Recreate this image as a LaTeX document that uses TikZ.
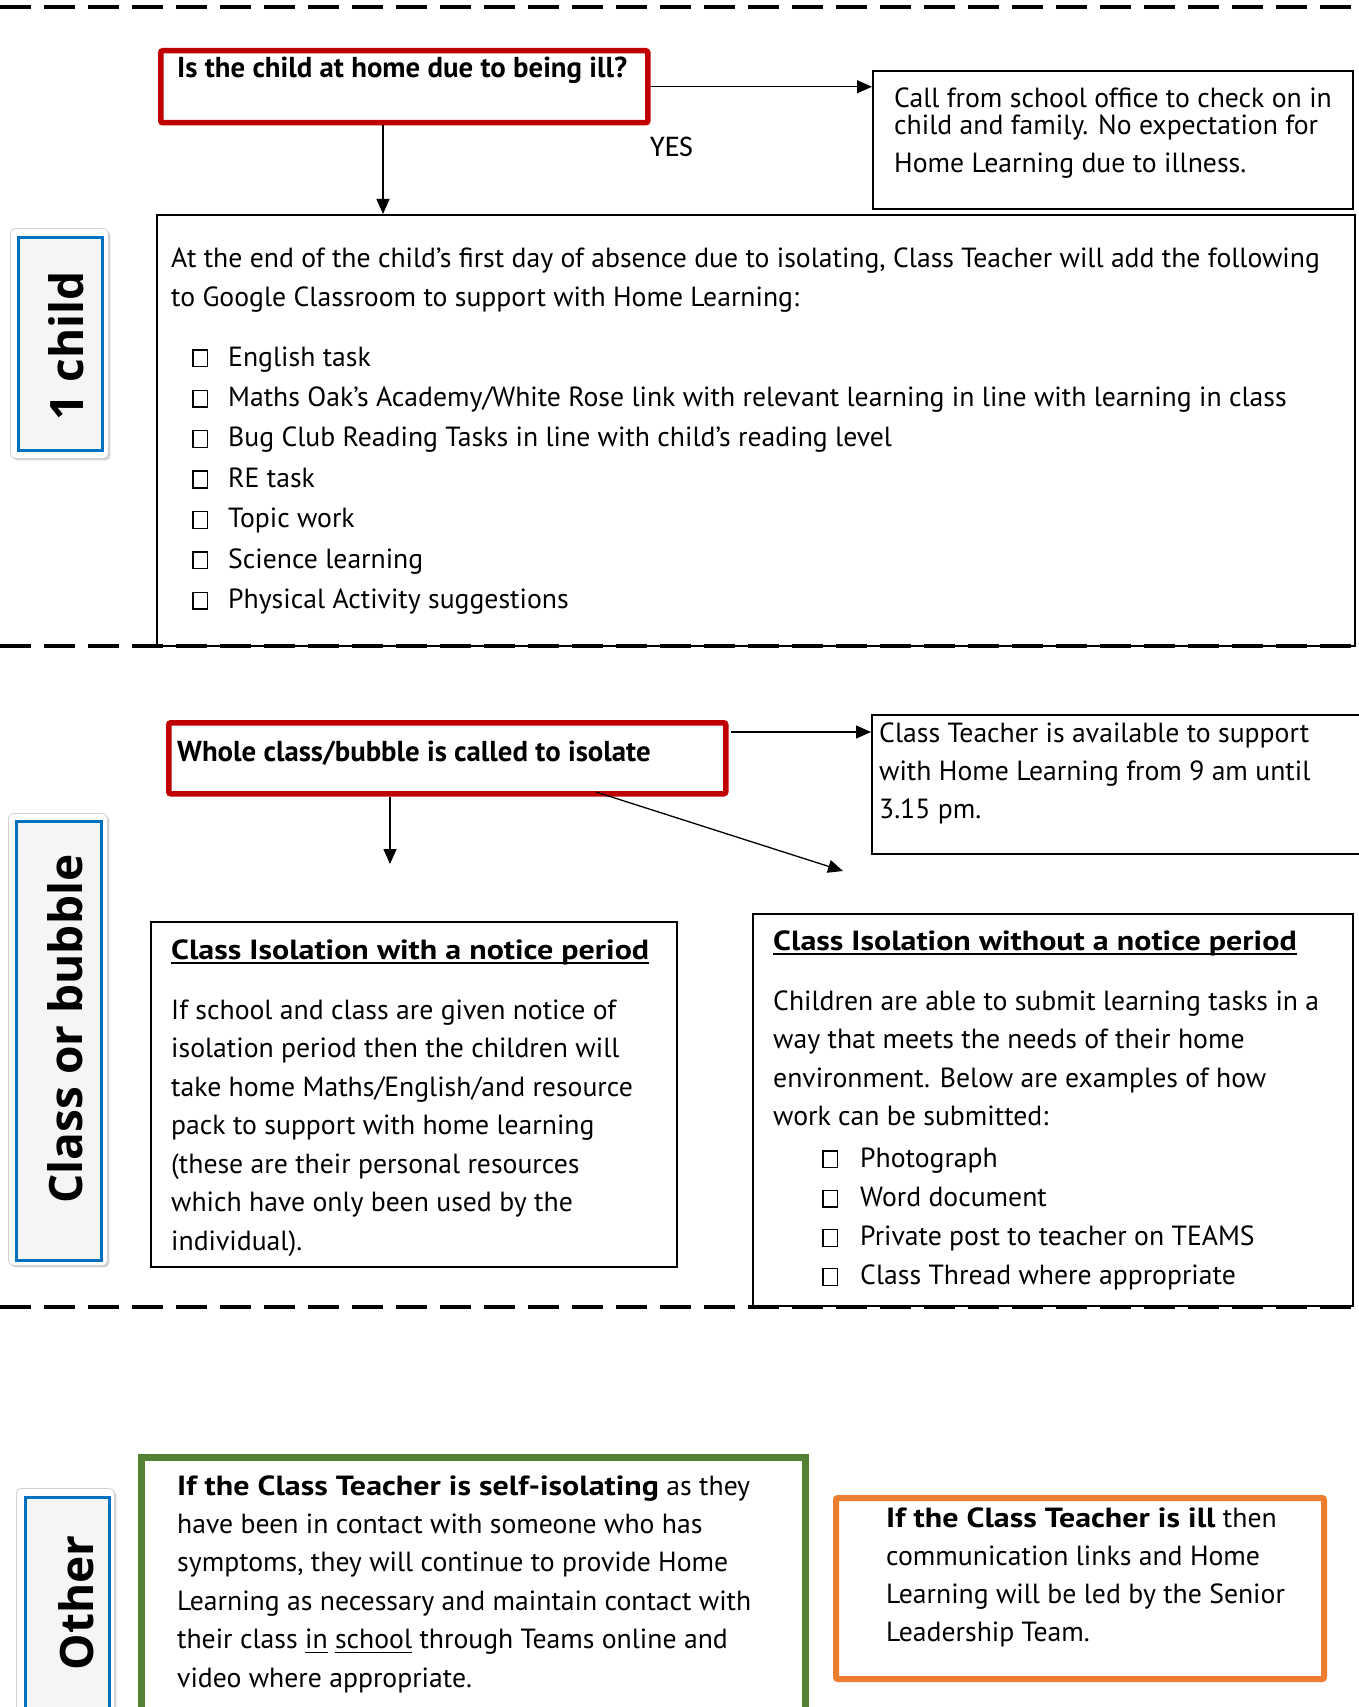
\documentclass[tikz,border=0pt]{standalone}
\usepackage{fontspec}
\setmainfont{PT Sans}
\newfontfamily\bwide{PT Sans}[FakeStretch=1.155]
\newfontfamily\labelfont{Open Sans}
\newfontfamily\yesfont{Carlito}
\usetikzlibrary{arrows.meta,shadows,calc}

\definecolor{redb}{RGB}{192,0,0}
\definecolor{greenb}{RGB}{84,130,53}
\definecolor{orangeb}{RGB}{237,125,49}
\definecolor{blueb}{RGB}{0,112,192}

\newsavebox\ulbox
\newcommand\myul[2][1.8pt]{\sbox\ulbox{#2}\rlap{\rule[-4.5pt]{\wd\ulbox}{#1}}\usebox\ulbox}
\newcommand\cbox{{\fboxsep=0pt\fboxrule=1.3pt\fbox{\rule{0pt}{15.5pt}\hspace{13.5pt}}}}
\newcommand\wb[1]{{\bwide\bfseries #1}}

\tikzset{
  x=1pt, y=-1pt,
  sep/.style={line width=4pt, dash pattern=on 31pt off 13pt},
  plainbox/.style={draw=black, line width=1.8pt, anchor=north west, inner sep=0pt},
  redbox/.style={draw=redb, line width=5.5pt, rounded corners=2pt, anchor=north west, inner sep=0pt},
  thinarr/.style={line width=1.3pt, -{Triangle[length=15pt,width=13pt]}},
  txt/.style={anchor=base west, inner sep=0pt, font=\fontsize{27.7}{33}\selectfont},
  hd/.style={anchor=base west, inner sep=0pt, font=\fontsize{28.8}{34}\selectfont\bfseries},
  uhd/.style={anchor=base west, inner sep=0pt, font=\fontsize{27.7}{33}\selectfont\bwide\bfseries},
  lblout/.style={draw=gray!35, line width=0.8pt, fill=white, rounded corners=5pt, anchor=north west,
     drop shadow={shadow xshift=2pt, shadow yshift=-2pt, opacity=0.35}},
  lblin/.style={draw=blueb, line width=3pt, fill=gray!8, anchor=north west},
  lbltxt/.style={rotate=90, anchor=base, inner sep=0pt, font=\labelfont\bfseries\fontsize{46}{50}\selectfont},
}

\begin{document}
\begin{tikzpicture}
\useasboundingbox (0,0) rectangle (1359,1707);
\fill[white] (0,0) rectangle (1359,1707);

% ---------- separators ----------
\draw[sep] (0,7) -- (1359,7);
\draw[sep] (0,646) -- (1359,646);
\draw[sep] (0,1307) -- (1359,1307);

% ================= Section 1 : 1 child =================
\node[lblout, minimum width=98pt, minimum height=230pt] (l1o) at (10,228) {};
\node[lblin, minimum width=84pt, minimum height=213pt] (l1i) at (17,236) {};
\node[lbltxt] (l1t) at (83,346) {1 child};

\node[redbox, minimum width=487pt, minimum height=72pt] (red1) at (158,48) {};
\node[hd] (red1t) at (177,78) {Is the child at home due to being ill?};

\node[plainbox, minimum width=480pt, minimum height=138pt] (call) at (872,70) {};
\node[txt] (call1) at (894,108) {Call from school office to check on in};
\node[txt] (call2) at (894,135) {child and family. No expectation for};
\node[txt] (call3) at (894,173) {Home Learning due to illness.};

\node[anchor=base west, inner sep=0pt, font=\yesfont\fontsize{30}{36}\selectfont] (yes) at (650,157) {YES};

\node[plainbox, minimum width=1198pt, minimum height=431pt] (big) at (156,214) {};
\node[txt] (big1) at (171,267) {At the end of the child’s first day of absence due to isolating, Class Teacher will add the following};
\node[txt] (big2) at (171,306) {to Google Classroom to support with Home Learning:};
\foreach \t [count=\i from 0] in {{English task},
  {Maths Oak’s Academy/White Rose link with relevant learning in line with learning in class},
  {Bug Club Reading Tasks in line with child’s reading level},
  {RE task},{Topic work},{Science learning},{Physical Activity suggestions}}
  \node[txt] (chk\i) at (192,366+40.4*\i) {\makebox[36pt][l]{\cbox}\t};

\coordinate (a1x) at (383,0);
\draw[thinarr] (red1.east) -- (red1.east -| call.west);
\draw[thinarr] (red1.south -| a1x) -- (big.north -| a1x);

% ================= Section 2 : Class or bubble =================
\node[lblout, minimum width=99pt, minimum height=452pt] (l2o) at (8,813) {};
\node[lblin, minimum width=85pt, minimum height=439pt] (l2i) at (15,820) {};
\node[lbltxt] (l2t) at (82,1029) {Class or bubble};

\node[redbox, minimum width=557pt, minimum height=71pt] (red2) at (166,720) {};
\node[hd] (red2t) at (177,761) {Whole class/bubble is called to isolate};

\node[plainbox, minimum width=520pt, minimum height=139pt] (ct) at (871,714) {};
\node[txt] (ct1) at (879,742) {Class Teacher is available to support};
\node[txt] (ct2) at (879,780) {with Home Learning from 9 am until};
\node[txt] (ct3) at (879,818) {3.15 pm.};

\coordinate (a2s) at (731,732);
\coordinate (a3x) at (390,0);
\coordinate (a3e) at (390,864);
\coordinate (a4s) at (596,792);
\coordinate (a4e) at (843,871);
\draw[thinarr] (a2s) -- (ct.west |- a2s);
\draw[thinarr] (red2.south -| a3x) -- (a3e);
\draw[thinarr] (a4s) -- (a4e);

\node[plainbox, minimum width=526pt, minimum height=345pt] (notice) at (150,921) {};
\node[uhd] (noticeh) at (171,959) {\myul{Class Isolation with a notice period}};
\foreach \t [count=\i from 0] in {{If school and class are given notice of},
  {isolation period then the children will},
  {take home Maths/English/and resource},
  {pack to support with home learning},
  {(these are their personal resources},
  {which have only been used by the},
  {individual).}}
  \node[txt] (nt\i) at (171,1019+38.5*\i) {\t};

\node[plainbox, minimum width=600pt, minimum height=392pt] (without) at (752,913) {};
\node[uhd] (withouth) at (773,950) {\myul{Class Isolation without a notice period}};
\foreach \t [count=\i from 0] in {{Children are able to submit learning tasks in a},
  {way that meets the needs of their home},
  {environment. Below are examples of how},
  {work can be submitted:}}
  \node[txt] (wt\i) at (773,1010+38.5*\i) {\t};
\foreach \t [count=\i from 0] in {{Photograph},{Word document},
  {Private post to teacher on TEAMS},{Class Thread where appropriate}}
  \node[txt] (wc\i) at (822,1167+39.3*\i) {\makebox[38pt][l]{\cbox}\t};

% ================= Section 3 : Other =================
\node[lblout, minimum width=98pt, minimum height=260pt] (l3o) at (16,1488) {};
\node[lblin, minimum width=84pt, minimum height=250pt] (l3i) at (24,1496) {};
\node[lbltxt] (l3t) at (93,1603) {Other};

\node[draw=greenb, line width=7pt, anchor=north west, inner sep=0pt,
      minimum width=664pt, minimum height=320pt] (green) at (138,1454) {};
\foreach \t [count=\i from 0] in {{\wb{If the Class Teacher is self-isolating} as they},
  {have been in contact with someone who has},
  {symptoms, they will continue to provide Home},
  {Learning as necessary and maintain contact with},
  {their class \myul[1.5pt]{in} \myul[1.5pt]{school} through Teams online and},
  {video where appropriate.}}
  \node[txt] (gt\i) at (177,1495+38.4*\i) {\t};

\node[draw=orangeb, line width=6pt, rounded corners=2pt, anchor=north west, inner sep=0pt,
      minimum width=488pt, minimum height=181pt] (orange) at (833,1495) {};
\foreach \t [count=\i from 0] in {{\wb{If the Class Teacher is ill} then},
  {communication links and Home},
  {Learning will be led by the Senior},
  {Leadership Team.}}
  \node[txt] (ot\i) at (886,1527+38.3*\i) {\t};

\end{tikzpicture}
\end{document}
